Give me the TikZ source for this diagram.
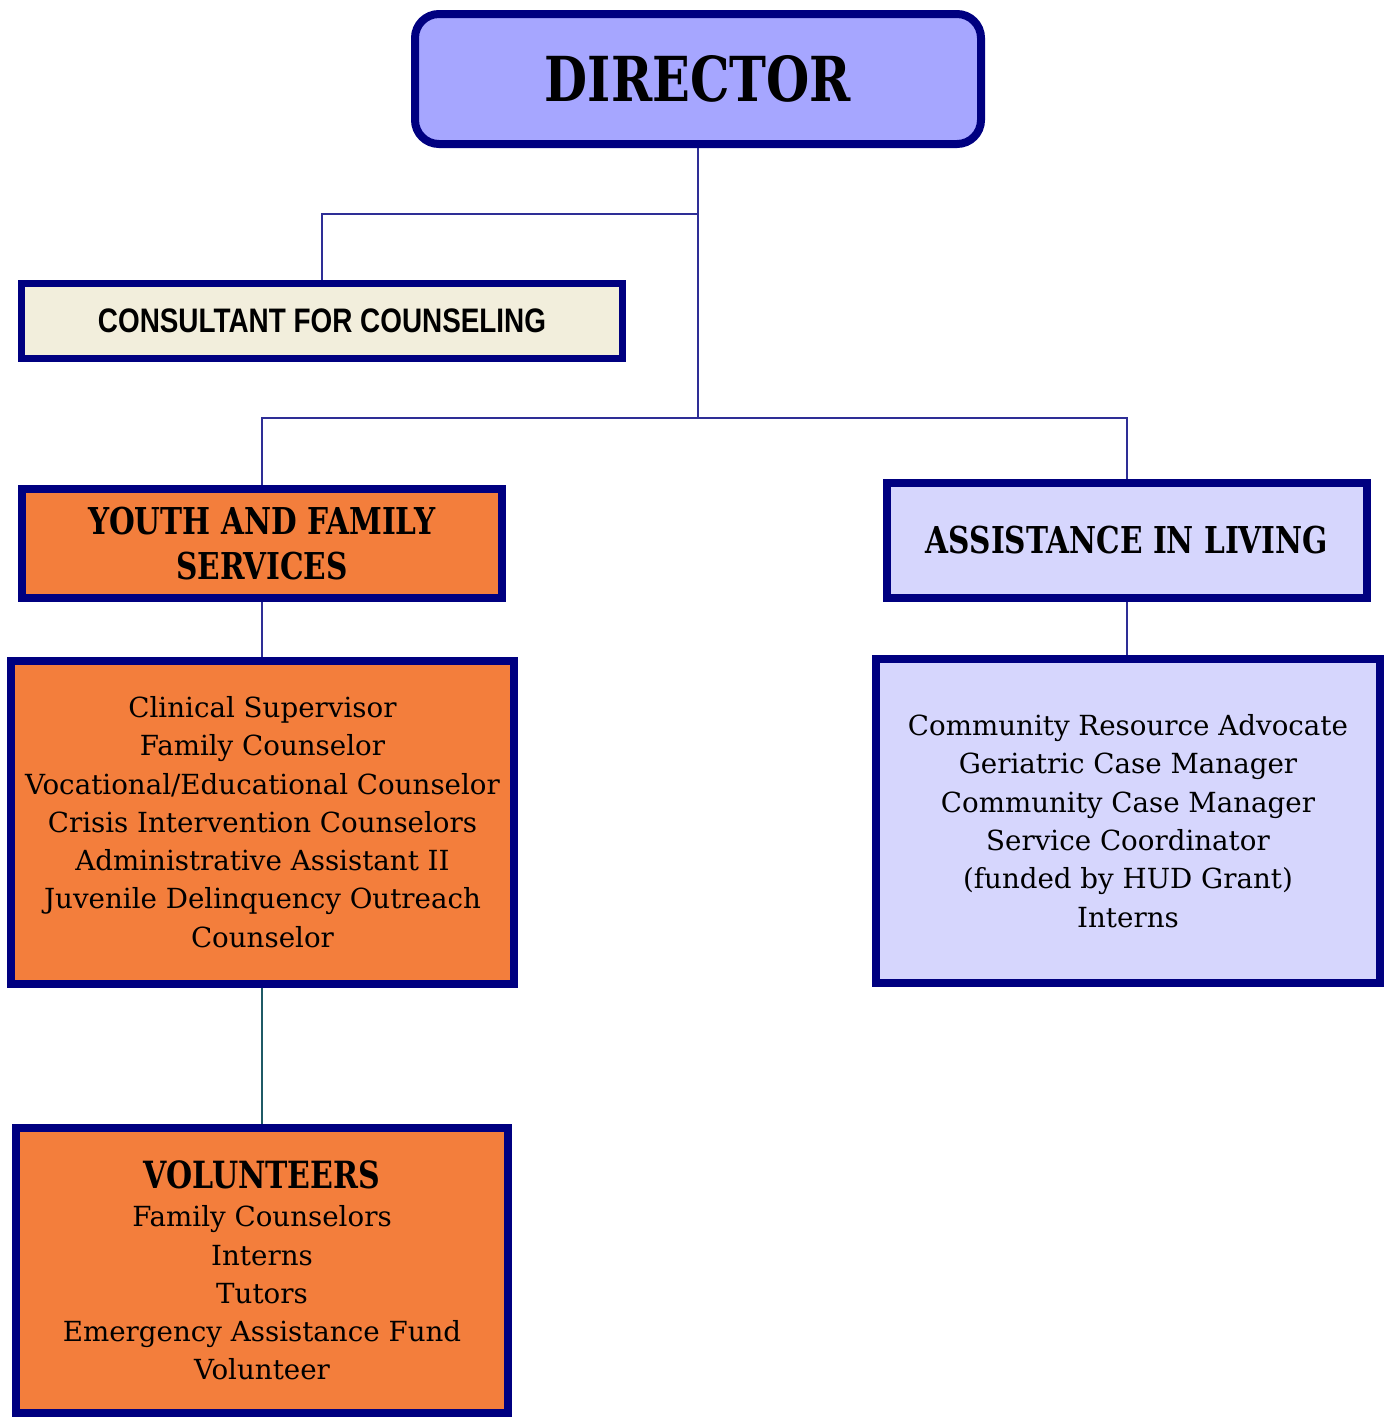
\documentclass[tikz,border=0pt]{standalone}
\usepackage{fontspec}
\newfontfamily\regfont{DejaVu Serif}
\newfontfamily\boldfont[FakeStretch=0.8]{DejaVu Serif Bold}
\newfontfamily\sansbold[FakeStretch=0.82]{Liberation Sans Bold}
\definecolor{navy}{HTML}{000080}
\definecolor{dirfill}{HTML}{A6A6FF}
\definecolor{consfill}{HTML}{F2EEDC}
\definecolor{orangefill}{HTML}{F37E3C}
\definecolor{lavfill}{HTML}{D6D6FD}
\definecolor{linkcol}{HTML}{2E2E96}
\definecolor{tealcol}{HTML}{1F5A66}
\tikzset{
  box/.style={draw=navy, line width=8pt, inner sep=0pt, align=center, text=black},
  link/.style={draw=linkcol, line width=2pt},
  reg/.style={font=\regfont\fontsize{27.7}{38.3}\selectfont},
  head/.style={font=\boldfont\fontsize{37}{45}\selectfont},
}
\begin{document}
\begin{tikzpicture}[x=1pt,y=-1pt]
\useasboundingbox (0,0) rectangle (1389,1417);
% boxes
\node[box, fill=dirfill, rounded corners=24pt, minimum width=566pt, minimum height=130pt,
  font=\boldfont\fontsize{62}{70}\selectfont] (dir) at (698,79) {DIRECTOR};
\node[box, line width=7pt, fill=consfill, minimum width=601pt, minimum height=75pt,
  font=\sansbold\fontsize{34}{36}\selectfont] (cons) at (322,321) {CONSULTANT FOR COUNSELING};
\node[box, fill=orangefill, minimum width=480pt, minimum height=109pt, head] (yfs) at (262,543.5)
  {YOUTH AND FAMILY\\SERVICES};
\node[box, fill=orangefill, minimum width=503pt, minimum height=323pt, reg] (ylist) at (262.5,822)
  {Clinical Supervisor\\Family Counselor\\Vocational/Educational Counselor\\Crisis Intervention Counselors\\Administrative Assistant II\\Juvenile Delinquency Outreach\\Counselor};
\node[box, fill=orangefill, minimum width=492pt, minimum height=285pt, reg] (vol) at (262,1270.5)
  {{\boldfont\fontsize{37.5}{41}\selectfont VOLUNTEERS}\\Family Counselors\\Interns\\Tutors\\Emergency Assistance Fund\\Volunteer};
\node[box, fill=lavfill, minimum width=480pt, minimum height=115pt, head] (ail) at (1127,540.5)
  {ASSISTANCE IN LIVING};
\node[box, fill=lavfill, minimum width=504pt, minimum height=324pt, reg] (alist) at (1128,821)
  {Community Resource Advocate\\Geriatric Case Manager\\Community Case Manager\\Service Coordinator\\(funded by HUD Grant)\\Interns};
% connectors
\coordinate (j1) at (698,214);
\coordinate (j2) at (698,418);
\draw[link] (dir.south) -- (j2);
\draw[link] (j1) -| (cons.north);
\draw[link] (j2) -| (yfs.north);
\draw[link] (j2) -| (ail.north);
\draw[link] (yfs.south) -- (yfs.south |- ylist.north);
\draw[link] (ail.south) -- (ail.south |- alist.north);
\draw[draw=tealcol, line width=2pt] (ylist.south -| vol.north) -- (vol.north);
\end{tikzpicture}
\end{document}
